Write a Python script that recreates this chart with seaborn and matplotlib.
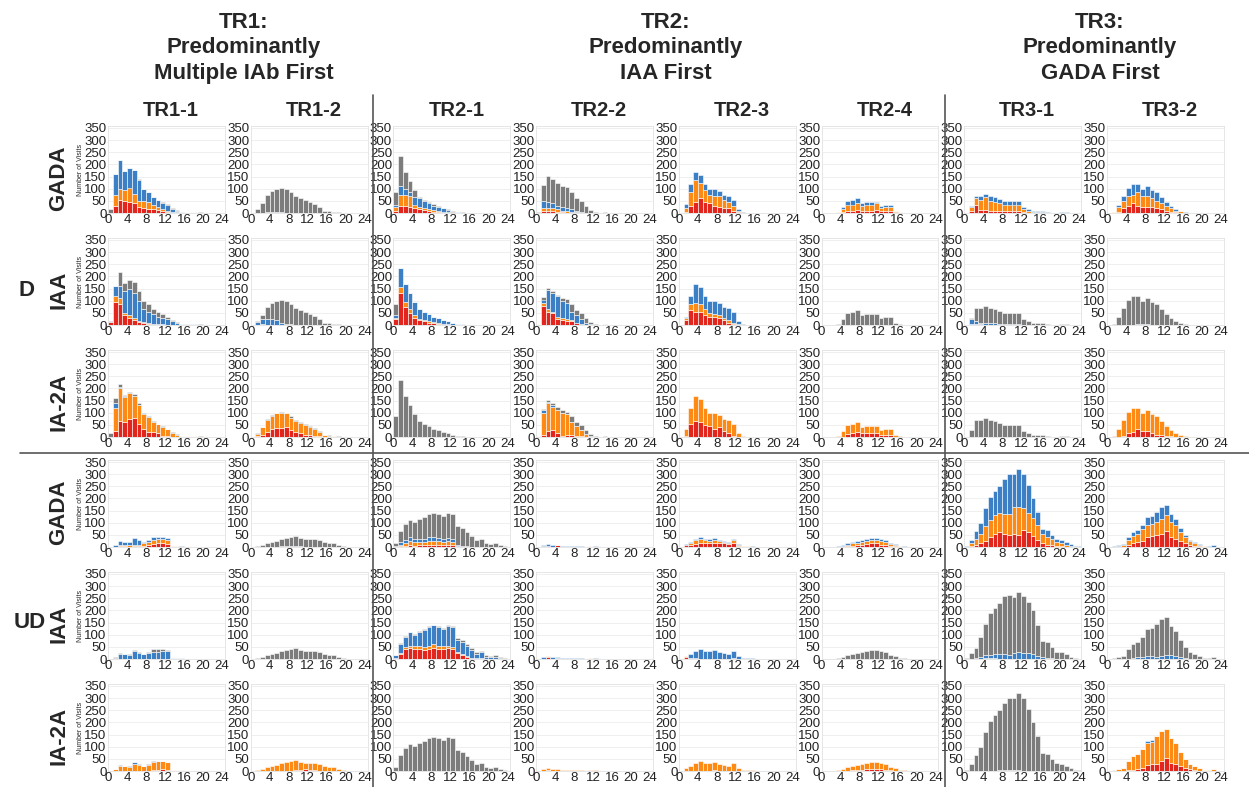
import numpy as np
import pandas as pd
import matplotlib
matplotlib.use("Agg")
import matplotlib.pyplot as plt
from matplotlib.lines import Line2D
import seaborn as sns

sns.set_theme(style="white")
plt.rcParams["font.family"] = ["Liberation Sans", "DejaVu Sans"]

# -----------------------------
# LABELS
# -----------------------------
columns = ["TR1-1", "TR1-2", "TR2-1", "TR2-2", "TR2-3", "TR2-4", "TR3-1", "TR3-2"]
antibodies = ["GADA", "IAA", "IA-2A"]
groups = ["D", "UD"]
group_titles = ["TR1:\nPredominantly\nMultiple IAb First",
                "TR2:\nPredominantly\nIAA First",
                "TR3:\nPredominantly\nGADA First"]
# seaborn stacks the first hue level on top
layers = ["gray", "blue", "orange", "red"]
layer_colors = {"red": "#e2261e", "orange": "#fd8a14", "blue": "#3d7fc4", "gray": "#7c7c7c"}

# -----------------------------
# DATA: visits per year-bin (0..24)
# totals per column, then cumulative tops of red / orange / blue
# [] = no such layer, None = reaches the total
# -----------------------------
d_total = {
    "TR1-1": [15, 160, 218, 172, 185, 178, 138, 100, 85, 65, 55, 45, 35, 20, 12, 6, 5, 5, 4, 3, 2, 1],
    "TR1-2": [0, 15, 42, 75, 90, 100, 102, 100, 85, 70, 62, 52, 45, 38, 25, 10, 8, 5, 3, 2, 1],
    "TR2-1": [85, 235, 170, 130, 95, 65, 55, 45, 35, 28, 22, 15, 8, 4, 3, 2, 2, 2, 1, 1, 1, 1, 1, 1],
    "TR2-2": [5, 115, 152, 138, 125, 110, 105, 88, 62, 50, 30, 12, 3, 1, 4, 1, 1],
    "TR2-3": [0, 35, 120, 170, 155, 120, 100, 100, 90, 75, 70, 55, 15, 3, 1, 1, 1, 1],
    "TR2-4": [0, 0, 0, 5, 25, 50, 55, 60, 42, 45, 45, 47, 30, 33, 33, 10, 5, 2, 1],
    "TR3-1": [0, 30, 70, 72, 80, 70, 65, 58, 50, 48, 48, 48, 25, 15, 8, 8, 8, 3, 2, 2, 3, 3, 2],
    "TR3-2": [0, 5, 35, 70, 105, 120, 120, 100, 110, 95, 85, 65, 45, 30, 15, 10, 3, 1],
}
ud_total = {
    "TR1-1": [0, 10, 25, 22, 20, 38, 28, 22, 28, 40, 40, 42, 38, 5, 5, 4, 2, 1, 1, 1],
    "TR1-2": [0, 3, 8, 15, 20, 25, 35, 38, 40, 45, 38, 35, 35, 32, 30, 20, 18, 15, 10, 5, 2, 1, 2, 1],
    "TR2-1": [18, 65, 95, 112, 105, 115, 125, 135, 140, 135, 128, 138, 135, 85, 78, 60, 45, 28, 32, 15, 12, 15, 8, 3],
    "TR2-2": [0, 8, 12, 8, 10, 3, 5, 3, 4, 3, 2, 5, 3, 1, 1, 1],
    "TR2-3": [0, 12, 22, 35, 40, 32, 32, 38, 30, 25, 20, 35, 12, 5, 5, 3, 2, 0, 0, 1],
    "TR2-4": [0, 0, 0, 3, 8, 15, 22, 25, 28, 35, 38, 38, 32, 28, 15, 12, 5, 3, 2, 2, 1, 1, 1],
    "TR3-1": [3, 28, 65, 100, 160, 205, 230, 250, 280, 300, 300, 320, 300, 255, 200, 145, 75, 70, 50, 35, 30, 20, 12, 5, 3],
    "TR3-2": [0, 3, 8, 12, 40, 62, 72, 90, 122, 128, 145, 165, 175, 135, 115, 80, 50, 30, 22, 12, 5, 5, 8, 2],
}
# the UD / IAA panel of TR3-1 has fewer visits than its neighbours
tr3_1_ud_iaa_total = [3, 25, 45, 90, 145, 190, 210, 230, 260, 265, 255, 275, 260, 235, 200, 140, 75, 70, 50, 30, 30, 20, 10, 5, 2]

# D group
d_red = {
    ("GADA", "TR1-1"): [0, 30, 55, 48, 45, 40, 25, 20, 18, 15, 12, 8, 5, 3, 2, 1, 3, 3, 2, 1],
    ("IAA", "TR1-1"): [12, 95, 85, 40, 30, 20, 12, 8, 6, 5, 5, 3, 2],
    ("IA-2A", "TR1-1"): [0, 25, 65, 60, 75, 80, 55, 35, 20, 20, 15, 5, 3, 2, 1],
    ("GADA", "TR1-2"): [],
    ("IAA", "TR1-2"): [],
    ("IA-2A", "TR1-2"): [0, 3, 10, 20, 35, 38, 38, 40, 28, 20, 15, 10, 8, 5, 3, 1],
    ("GADA", "TR2-1"): [10, 28, 28, 25, 20, 15, 12, 10, 6, 5, 3, 2, 1],
    ("IAA", "TR2-1"): [25, 130, 75, 50, 30, 20, 15, 10, 8, 6, 5, 3, 2],
    ("IA-2A", "TR2-1"): [],
    ("GADA", "TR2-2"): [0, 8, 10, 8, 5, 3, 2],
    ("IAA", "TR2-2"): [2, 80, 55, 50, 25, 20, 15, 15, 8, 2],
    ("IA-2A", "TR2-2"): [0, 10, 25, 30, 15, 5, 10, 8, 5, 3, 2, 1],
    ("GADA", "TR2-3"): [0, 5, 30, 45, 60, 45, 40, 30, 25, 20, 20, 10, 3],
    ("IAA", "TR2-3"): [0, 20, 60, 55, 55, 40, 35, 35, 30, 20, 10, 5, 2],
    ("IA-2A", "TR2-3"): [0, 5, 55, 65, 60, 50, 45, 35, 40, 25, 15, 5, 2],
    ("GADA", "TR2-4"): [0, 0, 0, 0, 5, 8, 10, 12, 10, 10, 10, 12, 8, 8, 8, 3, 1],
    ("IAA", "TR2-4"): [],
    ("IA-2A", "TR2-4"): [0, 0, 0, 0, 0, 12, 15, 22, 15, 18, 15, 15, 10, 8, 8, 2],
    ("GADA", "TR3-1"): [0, 8, 35, 12, 12, 10, 10, 10, 8, 10, 8, 8, 3, 2],
    ("IAA", "TR3-1"): [0, 3, 3, 2],
    ("IA-2A", "TR3-1"): [],
    ("GADA", "TR3-2"): [0, 0, 5, 20, 30, 40, 30, 25, 25, 25, 20, 15, 10, 5, 3, 2],
    ("IAA", "TR3-2"): [],
    ("IA-2A", "TR3-2"): [0, 0, 0, 5, 15, 20, 35, 25, 25, 15, 10, 8, 5, 3],
}
d_orange = {
    ("GADA", "TR1-1"): [0, 75, 100, 95, 105, 80, 50, 48, 45, 35, 25, 15, 10, 5, 3, 2, 4, 4, 3, 2, 1],
    ("IAA", "TR1-1"): [12, 120, 110, 50, 40, 30, 15, 12, 8, 6, 5, 4, 2],
    ("IA-2A", "TR1-1"): [0, 120, 200, 165, 180, 170, 132, 96, 82, 62, 52, 42, 32, 18, 10, 6, 4, 4, 3, 2, 1],
    ("GADA", "TR1-2"): [],
    ("IAA", "TR1-2"): [0, 2, 3, 2, 1],
    ("IA-2A", "TR1-2"): [0, 12, 40, 70, 88, 98, 100, 98, 80, 66, 58, 48, 42, 35, 22, 8, 6, 4, 2, 1],
    ("GADA", "TR2-1"): [25, 75, 75, 70, 35, 25, 22, 18, 12, 8, 5, 3, 2],
    ("IAA", "TR2-1"): [30, 155, 95, 65, 40, 25, 20, 15, 12, 8, 6, 4, 2],
    ("IA-2A", "TR2-1"): [],
    ("GADA", "TR2-2"): [0, 20, 22, 20, 15, 10, 8, 5, 3],
    ("IAA", "TR2-2"): [3, 90, 65, 55, 35, 30, 25, 20, 10, 3],
    ("IA-2A", "TR2-2"): [3, 100, 140, 125, 110, 100, 95, 60, 45, 30, 12, 5, 2],
    ("GADA", "TR2-3"): [0, 20, 85, 135, 125, 95, 75, 70, 70, 55, 45, 30, 8],
    ("IAA", "TR2-3"): [0, 30, 85, 90, 85, 65, 50, 45, 40, 30, 20, 10, 3],
    ("IA-2A", "TR2-3"): None,
    ("GADA", "TR2-4"): [0, 0, 0, 3, 15, 35, 35, 40, 28, 35, 35, 40, 20, 25, 25, 8, 4, 2],
    ("IAA", "TR2-4"): [],
    ("IA-2A", "TR2-4"): None,
    ("GADA", "TR3-1"): [0, 25, 60, 55, 65, 50, 45, 40, 35, 35, 35, 35, 15, 8, 5, 5, 5, 2, 1, 1, 2, 2, 1],
    ("IAA", "TR3-1"): [0, 5, 5, 3, 2],
    ("IA-2A", "TR3-1"): [],
    ("GADA", "TR3-2"): [0, 3, 25, 50, 70, 75, 85, 70, 70, 60, 50, 40, 30, 20, 10, 7, 2],
    ("IAA", "TR3-2"): [],
    ("IA-2A", "TR3-2"): None,
}
d_blue = {
    ("GADA", "TR1-1"): [0, 160, 218, 172, 185, 178, 135, 100, 85, 65, 55, 42, 32, 16, 10, 5, 4, 4, 3, 2, 1],
    ("IAA", "TR1-1"): [12, 160, 160, 140, 150, 130, 100, 65, 55, 45, 35, 30, 25, 15, 10, 5, 3, 3, 3, 2],
    ("IA-2A", "TR1-1"): [0, 140, 205, 168],
    ("GADA", "TR1-2"): [0, 0, 2, 3, 3, 3, 3, 2, 2, 1],
    ("IAA", "TR1-2"): [0, 12, 25, 25, 25, 20, 10, 5, 3, 2, 1],
    ("IA-2A", "TR1-2"): [],
    ("GADA", "TR2-1"): [35, 110, 100, 85, 65, 60, 50, 40, 30, 25, 20, 12, 6, 3],
    ("IAA", "TR2-1"): [40, 235, 170, 130, 95, 65, 55, 45, 35, 28, 22, 15, 8, 4, 3, 2, 2, 2, 1, 1, 1, 1, 1, 1],
    ("IA-2A", "TR2-1"): [],
    ("GADA", "TR2-2"): [0, 50, 45, 40, 30, 25, 20, 15, 10, 5],
    ("IAA", "TR2-2"): [5, 105, 145, 132, 118, 100, 90, 55, 40, 25, 10, 3, 1, 1, 4, 1],
    ("IA-2A", "TR2-2"): [3, 110, 145, 130, 112],
    ("GADA", "TR2-3"): None,
    ("IAA", "TR2-3"): None,
    ("IA-2A", "TR2-3"): [],
    ("GADA", "TR2-4"): None,
    ("IAA", "TR2-4"): [],
    ("IA-2A", "TR2-4"): [],
    ("GADA", "TR3-1"): None,
    ("IAA", "TR3-1"): [0, 25, 15, 10, 10, 8, 8, 5, 5, 3, 3, 3],
    ("IA-2A", "TR3-1"): [],
    ("GADA", "TR3-2"): None,
    ("IAA", "TR3-2"): [0, 0, 0, 0, 0, 0, 3, 3, 3],
    ("IA-2A", "TR3-2"): [],
}

# UD group
ud_red = {
    ("GADA", "TR1-1"): [0, 0, 3, 3, 0, 3, 3, 5, 8, 12, 15, 15, 12, 2],
    ("IAA", "TR1-1"): [],
    ("IA-2A", "TR1-1"): [0, 0, 0, 0, 0, 0, 0, 0, 0, 3, 5, 8, 5],
    ("GADA", "TR1-2"): [],
    ("IAA", "TR1-2"): [],
    ("IA-2A", "TR1-2"): [0, 0, 0, 0, 0, 0, 0, 0, 0, 3, 5, 8, 5, 3, 2],
    ("GADA", "TR2-1"): [0, 3, 5, 10, 5, 8, 8, 10, 10, 10, 8, 10, 8, 3],
    ("IAA", "TR2-1"): [3, 20, 40, 45, 40, 42, 38, 40, 45, 40, 40, 45, 42, 25, 18, 10, 5, 3, 3],
    ("IA-2A", "TR2-1"): [],
    ("GADA", "TR2-2"): [0, 2, 3, 0, 8, 0, 0, 0, 0, 0, 0, 3],
    ("IAA", "TR2-2"): [0, 0, 10, 0, 3, 0, 0, 0, 0, 0, 0, 2],
    ("IA-2A", "TR2-2"): [0, 0, 3, 0, 2, 0, 0, 0, 0, 0, 0, 3],
    ("GADA", "TR2-3"): [0, 8, 8, 12, 15, 15, 15, 18, 18, 15, 12, 15, 5, 2, 2, 1],
    ("IAA", "TR2-3"): [0, 10, 3, 2, 0, 0, 0, 0, 0, 0, 0, 3],
    ("IA-2A", "TR2-3"): [0, 0, 0, 0, 2, 0, 0, 3, 2],
    ("GADA", "TR2-4"): [0, 0, 0, 0, 0, 3, 5, 8, 10, 12, 15, 15, 10, 8, 5, 3],
    ("IAA", "TR2-4"): [],
    ("IA-2A", "TR2-4"): [0, 0, 0, 0, 0, 0, 3, 5, 5, 8, 10, 10, 8, 5, 3],
    ("GADA", "TR3-1"): [0, 5, 10, 15, 25, 40, 55, 60, 55, 50, 55, 50, 70, 60, 45, 30, 15, 10, 8, 5, 3, 2, 1],
    ("IAA", "TR3-1"): [0, 0, 0, 0, 3, 3, 3],
    ("IA-2A", "TR3-1"): [],
    ("GADA", "TR3-2"): [0, 0, 0, 2, 8, 15, 20, 25, 40, 45, 50, 55, 65, 40, 35, 25, 15, 10, 5, 3],
    ("IAA", "TR3-2"): [],
    ("IA-2A", "TR3-2"): [0, 0, 0, 0, 3, 5, 10, 12, 25, 28, 30, 40, 55, 35, 30, 20, 12, 8, 5],
}
ud_orange = {
    ("GADA", "TR1-1"): [0, 2, 8, 8, 8, 10, 10, 15, 20, 30, 35, 35, 30, 3, 3, 2],
    ("IAA", "TR1-1"): [],
    ("IA-2A", "TR1-1"): [0, 8, 22, 20, 18, 30, 25, 20, 25, 38, 40, 40, 38, 5, 5, 4, 2, 1],
    ("GADA", "TR1-2"): [],
    ("IAA", "TR1-2"): [],
    ("IA-2A", "TR1-2"): None,
    ("GADA", "TR2-1"): [0, 8, 15, 25, 20, 20, 20, 25, 25, 25, 22, 25, 20, 5],
    ("IAA", "TR2-1"): [3, 25, 50, 55, 55, 55, 50, 55, 60, 55, 52, 55, 50, 30, 22, 12, 6, 4, 4],
    ("IA-2A", "TR2-1"): [],
    ("GADA", "TR2-2"): [0, 3, 4, 0, 8, 0, 0, 0, 0, 0, 0, 4],
    ("IAA", "TR2-2"): [0, 0, 12, 0, 4, 0, 0, 0, 0, 0, 0, 3],
    ("IA-2A", "TR2-2"): None,
    ("GADA", "TR2-3"): [0, 10, 15, 28, 35, 28, 25, 30, 25, 20, 18, 30, 10, 4, 4, 2, 1],
    ("IAA", "TR2-3"): [0, 12, 5, 3, 0, 0, 0, 0, 0, 0, 0, 5],
    ("IA-2A", "TR2-3"): None,
    ("GADA", "TR2-4"): [0, 0, 0, 0, 5, 10, 15, 18, 20, 25, 28, 30, 25, 20, 12, 8, 3],
    ("IAA", "TR2-4"): [],
    ("IA-2A", "TR2-4"): None,
    ("GADA", "TR3-1"): [0, 15, 35, 55, 85, 110, 130, 140, 135, 135, 165, 165, 160, 140, 120, 90, 55, 40, 35, 20, 15, 10, 5, 2],
    ("IAA", "TR3-1"): [0, 0, 0, 0, 5, 5, 5],
    ("IA-2A", "TR3-1"): [0, 0, 0, 0, 0, 0, 0, 0, 0, 3, 3],
    ("GADA", "TR3-2"): [0, 0, 3, 8, 30, 45, 55, 75, 90, 95, 105, 115, 130, 105, 90, 60, 40, 25, 15, 8, 3],
    ("IAA", "TR3-2"): [],
    ("IA-2A", "TR3-2"): [0, 3, 8, 12, 40, 62, 72, 90, 115, 120, 145, 165, 175, 135, 115, 80, 50, 30, 22, 12, 5, 5, 8, 2],
}
ud_blue = {
    ("GADA", "TR1-1"): None,
    ("IAA", "TR1-1"): [0, 5, 20, 20, 18, 35, 25, 20, 25, 30, 30, 32, 35, 5, 5, 3, 2],
    ("IA-2A", "TR1-1"): [0, 0, 0, 0, 0, 36],
    ("GADA", "TR1-2"): [0, 0, 0, 0, 0, 0, 3, 5, 5, 5, 3],
    ("IAA", "TR1-2"): [],
    ("IA-2A", "TR1-2"): [],
    ("GADA", "TR2-1"): [3, 20, 30, 40, 35, 35, 35, 40, 40, 38, 35, 38, 32, 8, 5, 3],
    ("IAA", "TR2-1"): [15, 60, 90, 110, 100, 112, 120, 130, 138, 130, 125, 135, 130, 80, 70, 55, 38, 20, 28, 10, 8, 10, 5, 2],
    ("IA-2A", "TR2-1"): [],
    ("GADA", "TR2-2"): None,
    ("IAA", "TR2-2"): None,
    ("IA-2A", "TR2-2"): [],
    ("GADA", "TR2-3"): None,
    ("IAA", "TR2-3"): None,
    ("IA-2A", "TR2-3"): [],
    ("GADA", "TR2-4"): None,
    ("IAA", "TR2-4"): [],
    ("IA-2A", "TR2-4"): [],
    ("GADA", "TR3-1"): None,
    ("IAA", "TR3-1"): [0, 0, 5, 10, 15, 18, 20, 22, 20, 15, 25, 28, 25, 25, 20, 12, 8, 5, 3],
    ("IA-2A", "TR3-1"): [0, 0, 0, 0, 0, 0, 0, 5, 5, 5, 5, 5],
    ("GADA", "TR3-2"): None,
    ("IAA", "TR3-2"): [0, 0, 0, 0, 0, 5, 8, 10, 12, 12, 10, 12, 15, 15, 12, 10, 5],
    ("IA-2A", "TR3-2"): None,
}

N_BINS = 25


def pad(values):
    out = np.zeros(N_BINS)
    out[:len(values)] = values
    return out


def panel_frame(total, red, orange, blue):
    total = pad(total)
    r = pad(red)
    o = np.maximum(total if orange is None else pad(orange), r)
    b = np.maximum(total if blue is None else pad(blue), o)
    t = np.maximum(total, b)
    segments = {"red": r, "orange": o - r, "blue": b - o, "gray": t - b}
    rows = []
    for layer, vals in segments.items():
        for k, v in enumerate(vals):
            rows.append((k + 0.5, layer, v))
    return pd.DataFrame(rows, columns=["year", "layer", "visits"])


# -----------------------------
# FIGURE
# -----------------------------
W, H = 1249, 787
fig = plt.figure(figsize=(W / 100, H / 100), dpi=100)

row_tops = [128, 240, 352, 462, 574, 686]   # pixel row of the "350" tick
px_per_unit_y = 85 / 350
px_per_unit_x = 4.75
YMAX = 358
XMAX = 24.6
narrow = ["Liberation Sans Narrow", "Liberation Sans", "DejaVu Sans"]

for gi, grp in enumerate(groups):
    totals = d_total if grp == "D" else ud_total
    reds = d_red if grp == "D" else ud_red
    oranges = d_orange if grp == "D" else ud_orange
    blues = d_blue if grp == "D" else ud_blue
    for ai, ab in enumerate(antibodies):
        ri = gi * 3 + ai
        zero_px = row_tops[ri] + 85
        top_px = zero_px - YMAX * px_per_unit_y
        for ci, col in enumerate(columns):
            x0 = 108 + 142.7 * ci
            ax = fig.add_axes([x0 / W, 1 - zero_px / H,
                               XMAX * px_per_unit_x / W, (zero_px - top_px) / H])
            total = totals[col]
            if grp == "UD" and ab == "IAA" and col == "TR3-1":
                total = tr3_1_ud_iaa_total
            df = panel_frame(total, reds[(ab, col)], oranges[(ab, col)], blues[(ab, col)])
            df = df[df["visits"] > 0]
            sns.histplot(data=df, x="year", weights="visits", hue="layer",
                         hue_order=layers, multiple="stack", binwidth=1, binrange=(0, 25),
                         palette=layer_colors, edgecolor="white", linewidth=0.4,
                         alpha=1, legend=False, ax=ax)
            ax.set_xlim(0, XMAX)
            ax.set_ylim(0, YMAX)
            ax.set_xticks(range(0, 25, 4))
            ax.set_yticks(range(0, 351, 50))
            ax.tick_params(length=0, pad=1, labelsize=9.5, colors="#222222")
            ax.set_xlabel("")
            ax.set_ylabel("")
            ax.yaxis.grid(True, color="#ececec", linewidth=0.6)
            ax.set_axisbelow(True)
            for s in ax.spines.values():
                s.set_color("#e2e2e2")
                s.set_linewidth(0.6)
            if ci == 0:
                fig.text(81 / W, 1 - (zero_px - 43) / H, "Number of Visits",
                         rotation=90, ha="center", va="center", fontsize=5)
        # row label
        fig.text(59 / W, 1 - (zero_px - 35) / H, ab, rotation=90,
                 ha="center", va="center", fontsize=16, fontweight="bold",
                 family=narrow)

fig.text(26 / W, 1 - 290 / H, "D", ha="center", va="center", fontsize=16,
         fontweight="bold", family=narrow)
fig.text(30 / W, 1 - 623 / H, "UD", ha="center", va="center", fontsize=16,
         fontweight="bold", family=narrow)

# column headers
for ci, col in enumerate(columns):
    xc = 108 + 142.7 * ci + 63
    fig.text(xc / W, 1 - 110 / H, col, ha="center", va="center",
             fontsize=14.5, fontweight="bold")

# group titles
for xc, title in zip([244, 666, 1100], group_titles):
    fig.text(xc / W, 1 - 48 / H, title, ha="center", va="center",
             fontsize=16, fontweight="bold", linespacing=1.28)

# separators
for xs in [373, 945]:
    fig.add_artist(Line2D([xs / W, xs / W], [0, 1 - 95 / H], color="#555555", linewidth=1.2))
fig.add_artist(Line2D([20 / W, 1], [1 - 453 / H, 1 - 453 / H], color="#555555", linewidth=1.2))

fig.savefig("out.png", dpi=100)
